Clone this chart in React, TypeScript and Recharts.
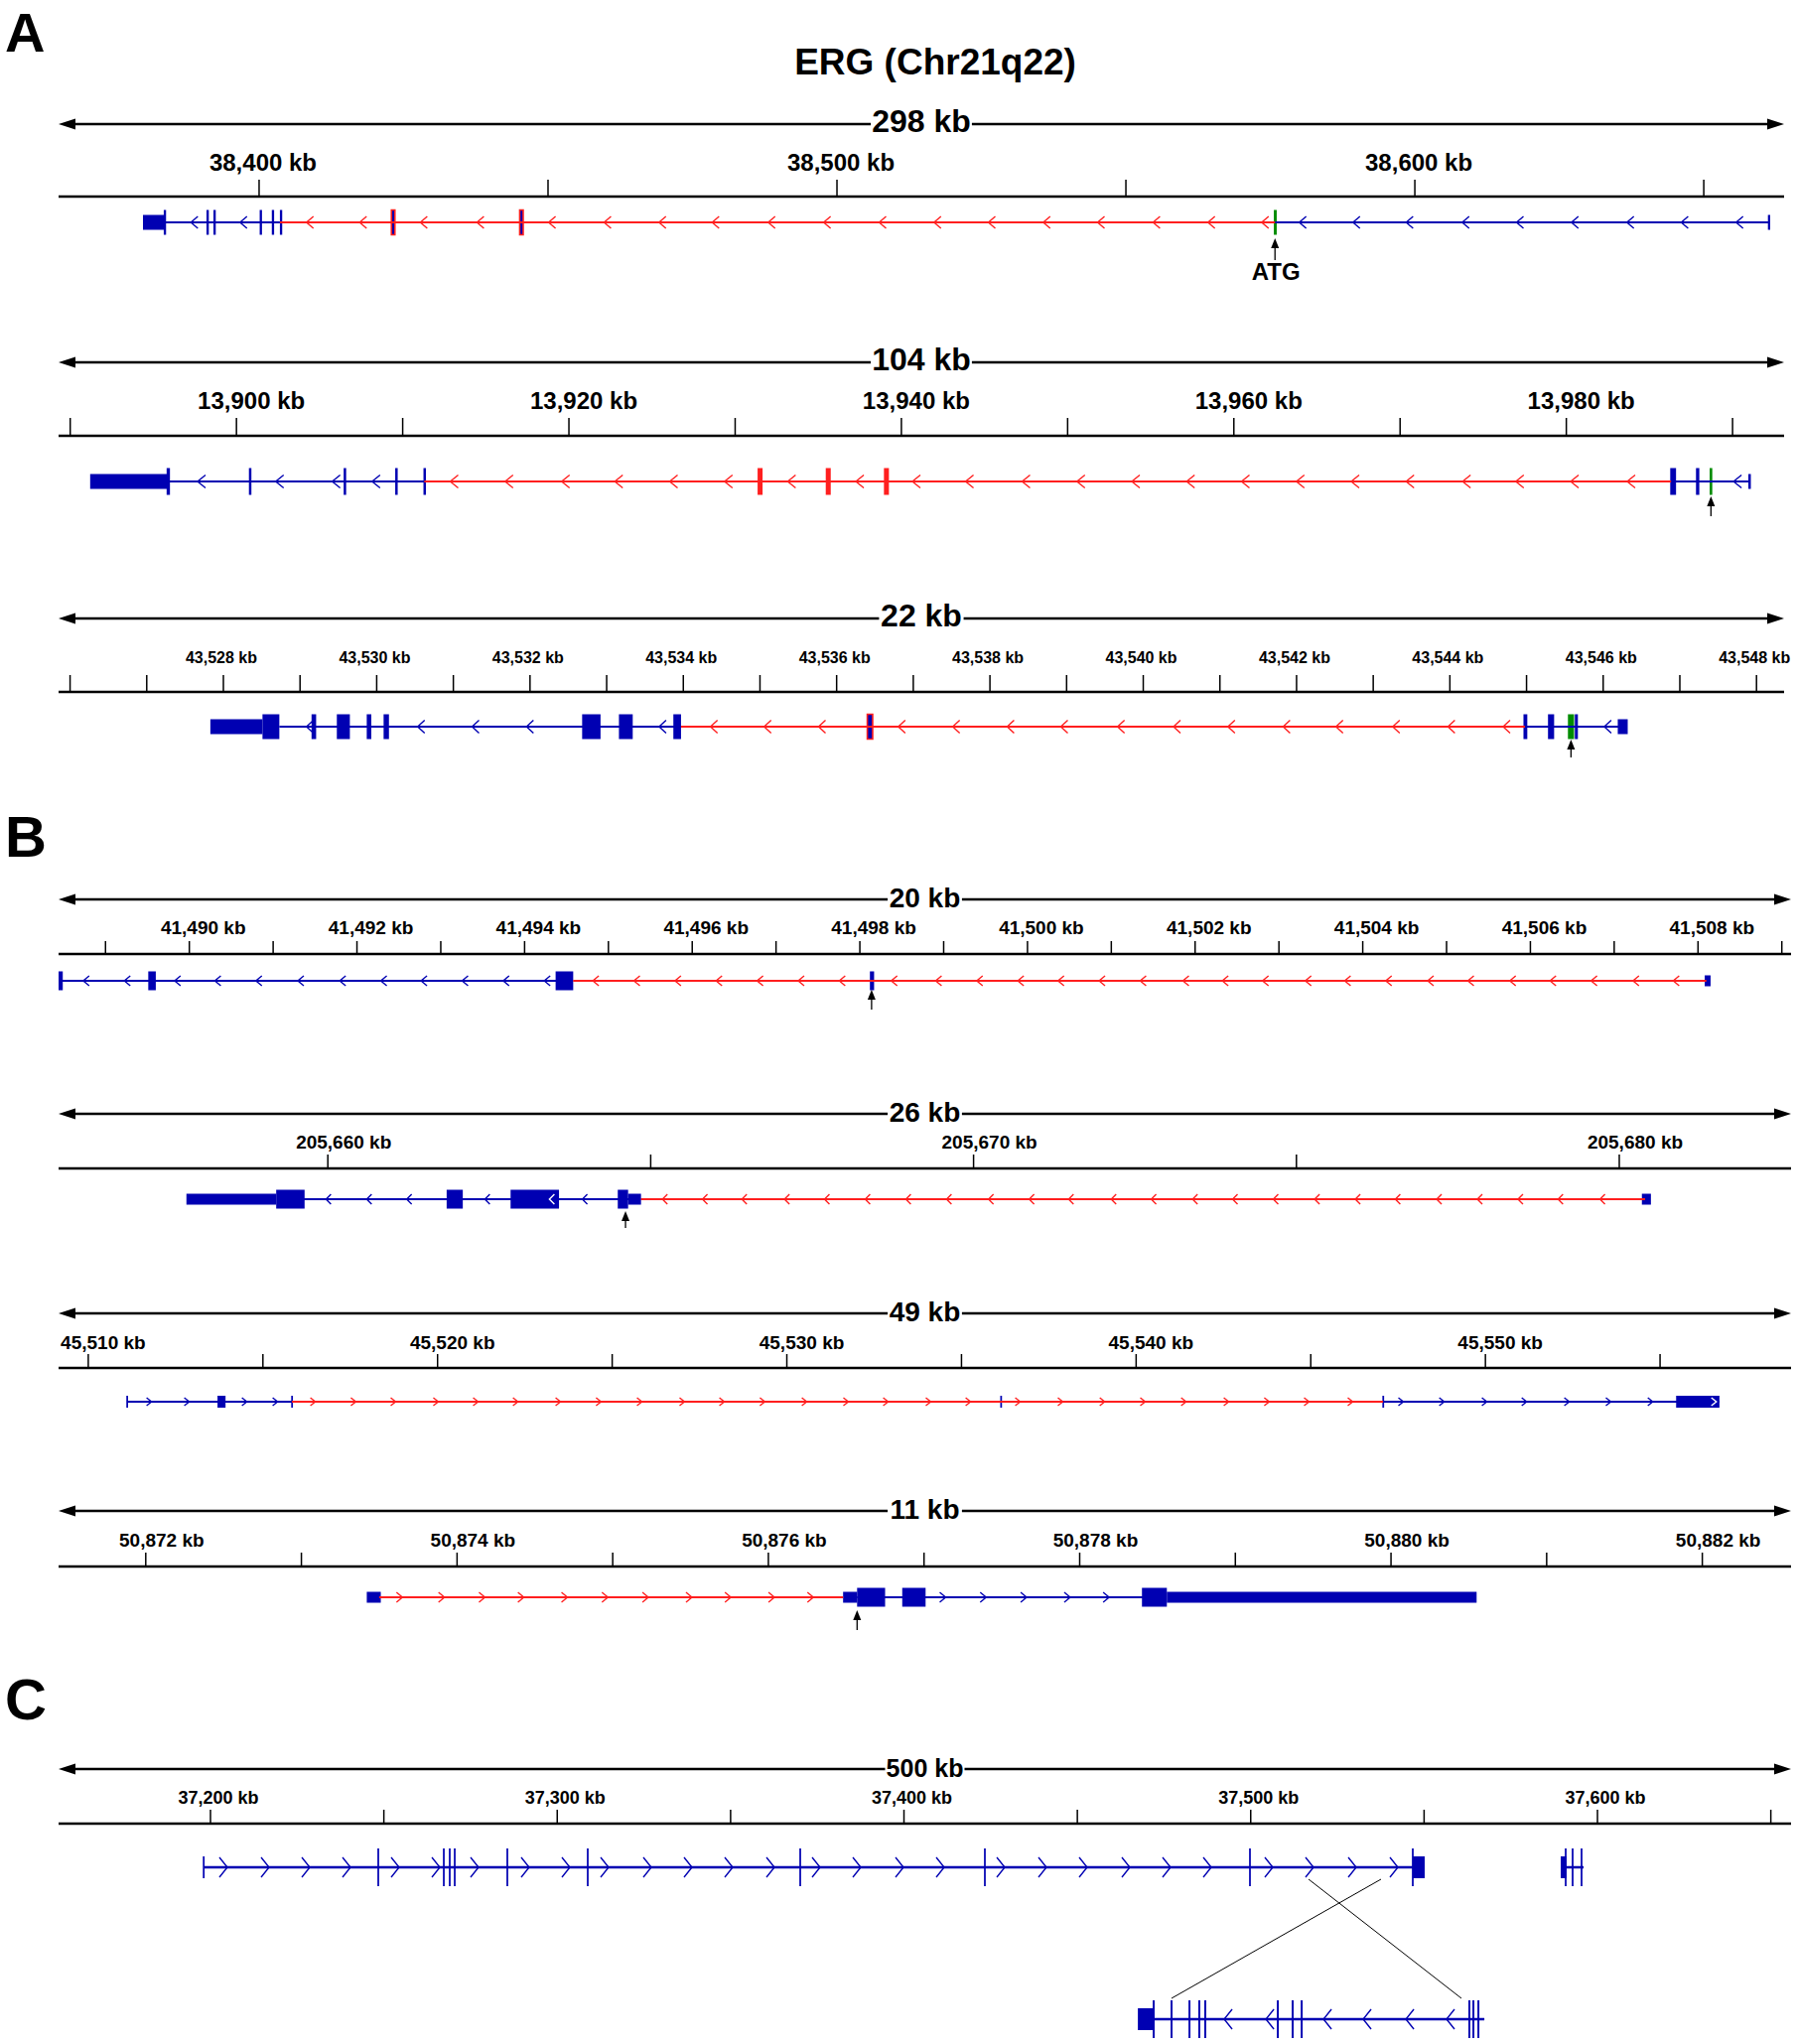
import React from 'react';
import { ComposedChart, XAxis, YAxis, Scatter, ReferenceArea, ReferenceLine } from 'recharts';

const FONT = '"Liberation Sans", Arial, Helvetica, sans-serif';
const BLUE = '#0000b2';
const RED = '#ff1f1f';
const GREEN = '#008c00';
const WIDTH = 1810;

// ---------------- Panel A, track 1: ERG, 298 kb ----------------
const A1_TICKS = [38400, 38450, 38500, 38550, 38600, 38650];
const A1_LABELS = [38400, 38500, 38600];
const A1_UTR = [[38379.9, 38383.6], [38661.1, 38661.5]];
const A1_CDS = [[38383.5, 38383.9], [38390.9, 38391.3], [38392.1, 38392.5], [38400.1, 38400.5], [38402.2, 38402.6], [38403.6, 38404.0]];
const A1_RED_CDS = [[38422.9, 38423.5], [38445.1, 38445.7]];
const A1_ATG = [[38575.6, 38576.1]];
const A1_BLUE_INTRONS = [[38383.7, 38403.6], [38575.8, 38661.3]];
const A1_RED_INTRONS = [[38403.6, 38575.8]];
const A1_BLUE_CHEV = [38388.8, 38397.3, 38580.6, 38589.9, 38599.1, 38608.8, 38618.2, 38627.7, 38637.3, 38646.7, 38656.2];
const A1_RED_CHEV = [38408.8, 38418.0, 38428.5, 38438.3, 38450.7, 38460.3, 38469.8, 38479.0, 38488.7, 38498.3, 38507.9, 38517.4, 38526.8, 38536.3, 38545.7, 38555.3, 38564.8, 38574.1];
const A1_START = 38575.8;

// ---------------- Panel A, track 2: 104 kb ----------------
const A2_TICKS = [13890, 13900, 13910, 13920, 13930, 13940, 13950, 13960, 13970, 13980, 13990];
const A2_LABELS = [13900, 13920, 13940, 13960, 13980];
const A2_UTR = [[13891.2, 13895.9], [13990.95, 13991.1]];
const A2_CDS = [[13895.8, 13896.0], [13900.75, 13900.9], [13906.45, 13906.6], [13909.55, 13909.7], [13911.25, 13911.4], [13986.25, 13986.6], [13987.8, 13988.0]];
const A2_RED_CDS = [[13931.35, 13931.65], [13935.45, 13935.75], [13938.95, 13939.25]];
const A2_ATG = [[13988.62, 13988.78]];
const A2_BLUE_INTRONS = [[13895.9, 13911.3], [13986.3, 13991.0]];
const A2_RED_INTRONS = [[13911.3, 13986.3]];
const A2_BLUE_CHEV = [13897.9, 13902.6, 13906.0, 13908.4, 13990.3];
const A2_RED_CHEV = [13913.1, 13916.4, 13919.8, 13923.0, 13926.3, 13929.6, 13933.4, 13937.5, 13940.9, 13944.1, 13947.5, 13950.8, 13954.1, 13957.4, 13960.7, 13964.0, 13967.3, 13970.6, 13974.0, 13977.2, 13980.5, 13983.9];
const A2_START = 13988.7;

// ---------------- Panel A, track 3: 22 kb ----------------
const A3_TICKS = [43526, 43527, 43528, 43529, 43530, 43531, 43532, 43533, 43534, 43535, 43536, 43537, 43538, 43539, 43540, 43541, 43542, 43543, 43544, 43545, 43546, 43547, 43548];
const A3_LABELS = [43528, 43530, 43532, 43534, 43536, 43538, 43540, 43542, 43544, 43546, 43548];
const A3_UTR = [[43527.83, 43528.51], [43546.19, 43546.32]];
const A3_CDS = [[43528.51, 43528.73], [43529.15, 43529.21], [43529.48, 43529.65], [43529.87, 43529.93], [43530.09, 43530.16], [43532.68, 43532.92], [43533.16, 43533.34], [43533.87, 43533.97], [43544.96, 43545.01], [43545.28, 43545.36], [43545.63, 43545.67]];
const A3_RED_CDS = [[43536.40, 43536.47]];
const A3_ATG = [[43545.54, 43545.62]];
const A3_BLUE_INTRONS = [[43528.73, 43533.97], [43544.98, 43546.2]];
const A3_RED_INTRONS = [[43533.97, 43544.98]];
const A3_BLUE_CHEV = [43529.13, 43530.58, 43531.29, 43532.00, 43533.73, 43546.06];
const A3_RED_CHEV = [43534.40, 43535.10, 43535.81, 43536.85, 43537.56, 43538.27, 43538.97, 43539.71, 43540.44, 43541.15, 43541.87, 43542.56, 43543.30, 43544.02, 43544.74];
const A3_START = 43545.58;

// ---------------- Panel B, track 1: 20 kb ----------------
const B1_TICKS = [41489, 41490, 41491, 41492, 41493, 41494, 41495, 41496, 41497, 41498, 41499, 41500, 41501, 41502, 41503, 41504, 41505, 41506, 41507, 41508, 41509];
const B1_LABELS = [41490, 41492, 41494, 41496, 41498, 41500, 41502, 41504, 41506, 41508];
const B1_UTR = [[41508.08, 41508.15]];
const B1_CDS = [[41488.44, 41488.49], [41489.51, 41489.60], [41494.37, 41494.58], [41498.12, 41498.17]];
const B1_BLUE_INTRONS = [[41488.47, 41494.58]];
const B1_RED_INTRONS = [[41494.58, 41508.1]];
const B1_BLUE_CHEV = [41488.77, 41489.26, 41489.86, 41490.34, 41490.83, 41491.33, 41491.83, 41492.32, 41492.80, 41493.29, 41493.78, 41494.27];
const B1_RED_CHEV = [41494.85, 41495.34, 41495.83, 41496.32, 41496.81, 41497.30, 41497.79, 41498.41, 41498.94, 41499.43, 41499.92, 41500.40, 41500.89, 41501.38, 41501.89, 41502.36, 41502.84, 41503.35, 41503.82, 41504.31, 41504.81, 41505.29, 41505.79, 41506.27, 41506.76, 41507.26, 41507.74];
const B1_START = 41498.14;

// ---------------- Panel B, track 2: 26 kb ----------------
const B2_TICKS = [205660, 205665, 205670, 205675, 205680];
const B2_LABELS = [205660, 205670, 205680];
const B2_UTR = [[205657.81, 205659.20], [205664.65, 205664.85], [205680.35, 205680.49]];
const B2_CDS = [[205659.20, 205659.64], [205661.84, 205662.09], [205662.83, 205663.58], [205664.49, 205664.65]];
const B2_BLUE_INTRONS = [[205659.5, 205664.85]];
const B2_RED_INTRONS = [[205664.85, 205680.4]];
const B2_BLUE_CHEV = [205660.01, 205660.64, 205661.26, 205662.47, 205663.98];
const B2_WHITE_CHEV = [205663.47];
const B2_RED_CHEV = [205665.22, 205665.84, 205666.45, 205667.11, 205667.73, 205668.36, 205668.99, 205669.62, 205670.27, 205670.90, 205671.51, 205672.17, 205672.79, 205673.43, 205674.05, 205674.68, 205675.32, 205675.95, 205676.57, 205677.21, 205677.84, 205678.47, 205679.09, 205679.74];
const B2_START = 205664.61;

// ---------------- Panel B, track 3: 49 kb ----------------
const B3_TICKS = [45510, 45515, 45520, 45525, 45530, 45535, 45540, 45545, 45550, 45555];
const B3_LABELS = [45510, 45520, 45530, 45540, 45550];
const B3_CDS = [[45511.09, 45511.14], [45513.70, 45513.93], [45515.81, 45515.86], [45536.11, 45536.16], [45547.05, 45547.10], [45555.46, 45556.70]];
const B3_BLUE_INTRONS = [[45511.11, 45515.83], [45547.07, 45556.7]];
const B3_RED_INTRONS = [[45515.83, 45547.07]];
const B3_BLUE_CHEV = [45511.74, 45512.82, 45514.47, 45515.35, 45547.58, 45548.75, 45549.97, 45551.11, 45552.33, 45553.52, 45554.72];
const B3_WHITE_CHEV = [45556.54];
const B3_RED_CHEV = [45516.43, 45517.59, 45518.73, 45519.95, 45521.09, 45522.23, 45523.45, 45524.61, 45525.78, 45527.00, 45528.14, 45529.30, 45530.50, 45531.69, 45532.83, 45534.05, 45535.19, 45536.61, 45537.83, 45539.03, 45540.19, 45541.36, 45542.58, 45543.74, 45544.88, 45546.13];

// ---------------- Panel B, track 4: 11 kb ----------------
const B4_TICKS = [50872, 50873, 50874, 50875, 50876, 50877, 50878, 50879, 50880, 50881, 50882];
const B4_LABELS = [50872, 50874, 50876, 50878, 50880, 50882];
const B4_UTR = [[50873.42, 50873.51], [50876.48, 50876.57], [50878.56, 50880.55]];
const B4_CDS = [[50876.57, 50876.75], [50876.86, 50877.01], [50878.40, 50878.56]];
const B4_BLUE_INTRONS = [[50876.57, 50878.5]];
const B4_RED_INTRONS = [[50873.5, 50876.48]];
const B4_BLUE_CHEV = [50877.12, 50877.38, 50877.64, 50877.92, 50878.17];
const B4_RED_CHEV = [50873.63, 50873.90, 50874.16, 50874.41, 50874.69, 50874.95, 50875.21, 50875.49, 50875.74, 50876.02, 50876.27];
const B4_START = 50876.57;

// ---------------- Panel C: 500 kb ----------------
const C_TICKS = [37200, 37250, 37300, 37350, 37400, 37450, 37500, 37550, 37600, 37650];
const C_LABELS = [37200, 37300, 37400, 37500, 37600];
const C_UTR = [[37197.8, 37198.3], [37546.74, 37550.18], [37589.40, 37591.12]];
const C_CDS = [[37248.14, 37248.64], [37267.04, 37267.54], [37268.75, 37269.25], [37270.19, 37270.69], [37285.36, 37285.86], [37308.55, 37309.05], [37369.83, 37370.33], [37423.08, 37423.58], [37499.53, 37500.03], [37546.49, 37546.99], [37590.59, 37591.09], [37592.59, 37593.09], [37595.17, 37595.67]];
const C_BLUE_INTRONS = [[37198.0, 37548.0], [37589.4, 37596.0]];
const C_BLUE_CHEV = [37203.72, 37215.75, 37227.49, 37239.23, 37253.26, 37265.00, 37276.16, 37290.76, 37302.50, 37313.67, 37325.98, 37337.72, 37349.46, 37361.49, 37374.66, 37386.40, 37398.71, 37410.45, 37427.92, 37439.94, 37451.68, 37463.99, 37475.73, 37487.47, 37505.22, 37516.96, 37529.28, 37541.30];
const C_ZOOM_TOP = [37516.68, 37537.58];
const C_ZOOM_BOTTOM = [37560.77, 37477.16];
const C_INSET_DOMAIN = [37492.92, 37617.82];
const C_INSET_UTR = [[37538.87, 37540.01]];
const C_INSET_CDS = [[37538.80, 37538.94], [37537.51, 37537.65], [37536.22, 37536.36], [37535.51, 37535.65], [37535.08, 37535.22], [37529.85, 37529.99], [37528.78, 37528.92], [37528.13, 37528.27], [37516.04, 37516.18], [37515.75, 37515.89], [37515.39, 37515.53]];
const C_INSET_INTRONS = [[37515.03, 37538.87]];
const C_INSET_CHEV = [37533.50, 37530.49, 37526.34, 37523.48, 37520.40, 37517.47];

// ---------------- drawing helpers ----------------
const chevShape = (dir: string, w: number, h: number, color: string, sw: number) => (p: any) => {
  const { cx, cy } = p;
  if (cx == null || cy == null) return <g />;
  const l = cx - w / 2, r = cx + w / 2;
  const d = dir === '<'
    ? `M${r},${cy - h} L${l},${cy} L${r},${cy + h}`
    : `M${l},${cy - h} L${r},${cy} L${l},${cy + h}`;
  return <path d={d} fill="none" stroke={color} strokeWidth={sw} />;
};

const scaleBarShape = (label: string, font: number) => (p: any) => {
  const { x1, x2, y1 } = p;
  const a = 17, h = 5.5;
  const cx = (x1 + x2) / 2;
  const half = (label.length * 0.52 * font) / 2 + 1;
  return (
    <g>
      <line x1={x1 + a - 1} y1={y1} x2={cx - half} y2={y1} stroke="#000" strokeWidth={2.5} />
      <line x1={cx + half} y1={y1} x2={x2 - a + 1} y2={y1} stroke="#000" strokeWidth={2.5} />
      <path d={`M${x1},${y1} L${x1 + a},${y1 - h} L${x1 + a},${y1 + h} Z`} fill="#000" />
      <path d={`M${x2},${y1} L${x2 - a},${y1 - h} L${x2 - a},${y1 + h} Z`} fill="#000" />
      <text x={cx} y={y1 + 8} textAnchor="middle" fontSize={font} fontWeight="bold" fontFamily={FONT} fill="#000">{label}</text>
    </g>
  );
};

const startArrowShape = (text?: string) => (p: any) => {
  const { x1, y1, y2 } = p;
  return (
    <g>
      <line x1={x1} y1={y1 + 8} x2={x1} y2={y2} stroke="#000" strokeWidth={1.3} />
      <path d={`M${x1},${y1} L${x1 - 4},${y1 + 10} L${x1 + 4},${y1 + 10} Z`} fill="#000" />
      {text ? (
        <text x={x1 + 1} y={y2 + 20} textAnchor="middle" fontSize={24} fontWeight="bold" fontFamily={FONT} fill="#000">{text}</text>
      ) : null}
    </g>
  );
};

const makeTick = (labels: number[], font: number, dx: number) => (p: any) => {
  const v = p && p.payload ? p.payload.value : null;
  if (v == null || !labels.some((l) => Math.abs(l - v) < 1e-6)) return <g />;
  return (
    <text x={p.x + dx} y={p.y} textAnchor="middle" fontSize={font} fontWeight="bold" fontFamily={FONT} fill="#000">
      {Number(v).toLocaleString('en-US')} kb
    </text>
  );
};

const areas = (list: number[][] | undefined, y: number, hh: number, fill: string, key: string, axisId: any = 0, stroke = 'none', sw = 0) =>
  (list || []).map(([a, b], i) => (
    <ReferenceArea key={key + i} xAxisId={axisId} x1={a} x2={b} y1={y - hh} y2={y + hh} fill={fill} fillOpacity={1}
      stroke={stroke} strokeWidth={sw} ifOverflow="visible" />
  ));

const segs = (list: number[][] | undefined, y: number, color: string, w: number, key: string, axisId: any = 0) =>
  (list || []).map(([a, b], i) => (
    <ReferenceLine key={key + i} xAxisId={axisId} segment={[{ x: a, y }, { x: b, y }]} stroke={color} strokeWidth={w} ifOverflow="visible" />
  ));

const chevs = (list: number[] | undefined, y: number, dir: string, w: number, h: number, color: string, key: string, axisId: any = 0) =>
  list && list.length ? (
    <Scatter key={key} xAxisId={axisId} data={list.map((x) => ({ x, y }))} shape={chevShape(dir, w, h, color, 1.4)} isAnimationActive={false} />
  ) : null;

// ---------------- track configurations (layout only) ----------------
const TRACKS: any[] = [
  { id: 'A1', top: 100, height: 190, axisH: 98, right: 13, domain: [38365.3, 38663.9], ticks: A1_TICKS, labels: A1_LABELS, tickFont: 24, tickSize: 17, tickMargin: 9.5, labelDx: 4,
    span: '298 kb', spanFont: 32, spanY: -73, geneY: 26, cdsH: 12.5, utrH: 7.5, chevW: 7, chevH: 6, dir: '<', lineW: 2,
    utr: A1_UTR, cds: A1_CDS, redCds: A1_RED_CDS, redOutline: true, atg: A1_ATG, blueIn: A1_BLUE_INTRONS, redIn: A1_RED_INTRONS,
    blueChev: A1_BLUE_CHEV, redChev: A1_RED_CHEV, start: A1_START, arrowY: [42, 64], startText: 'ATG' },
  { id: 'A2', top: 330, height: 200, axisH: 109, right: 13, domain: [13889.3, 13993.1], ticks: A2_TICKS, labels: A2_LABELS, tickFont: 24, tickSize: 18, tickMargin: 9, labelDx: 15,
    span: '104 kb', spanFont: 32, spanY: -74, geneY: 46, cdsH: 13.5, utrH: 7.5, chevW: 8, chevH: 6.5, dir: '<', lineW: 2,
    utr: A2_UTR, cds: A2_CDS, redCds: A2_RED_CDS, redOutline: false, atg: A2_ATG, blueIn: A2_BLUE_INTRONS, redIn: A2_RED_INTRONS,
    blueChev: A2_BLUE_CHEV, redChev: A2_RED_CHEV, start: A2_START, arrowY: [61, 81] },
  { id: 'A3', top: 590, height: 185, axisH: 107, right: 13, domain: [43525.85, 43548.36], ticks: A3_TICKS, labels: A3_LABELS, tickFont: 16, tickSize: 17, tickMargin: 12, labelDx: -2,
    span: '22 kb', spanFont: 32, spanY: -74, geneY: 35, cdsH: 12.5, utrH: 7.5, chevW: 7, chevH: 6.5, dir: '<', lineW: 2,
    utr: A3_UTR, cds: A3_CDS, redCds: A3_RED_CDS, redOutline: true, atg: A3_ATG, blueIn: A3_BLUE_INTRONS, redIn: A3_RED_INTRONS,
    blueChev: A3_BLUE_CHEV, redChev: A3_RED_CHEV, start: A3_START, arrowY: [48, 66] },
  { id: 'B1', top: 870, height: 170, axisH: 91, right: 6, domain: [41488.44, 41509.11], ticks: B1_TICKS, labels: B1_LABELS, tickFont: 19, tickSize: 13, tickMargin: 7, labelDx: 14,
    span: '20 kb', spanFont: 28, spanY: -55, geneY: 27, cdsH: 9.5, utrH: 5.5, chevW: 6, chevH: 5, dir: '<', lineW: 2,
    utr: B1_UTR, cds: B1_CDS, blueIn: B1_BLUE_INTRONS, redIn: B1_RED_INTRONS,
    blueChev: B1_BLUE_CHEV, redChev: B1_RED_CHEV, start: B1_START, arrowY: [36, 56] },
  { id: 'B2', top: 1085, height: 170, axisH: 92, right: 6, domain: [205655.83, 205682.66], ticks: B2_TICKS, labels: B2_LABELS, tickFont: 19, tickSize: 14, tickMargin: 6, labelDx: 16,
    span: '26 kb', spanFont: 28, spanY: -55, geneY: 31, cdsH: 9.5, utrH: 5.5, chevW: 5, chevH: 5, dir: '<', lineW: 2,
    utr: B2_UTR, cds: B2_CDS, blueIn: B2_BLUE_INTRONS, redIn: B2_RED_INTRONS,
    blueChev: B2_BLUE_CHEV, redChev: B2_RED_CHEV, whiteChev: B2_WHITE_CHEV, start: B2_START, arrowY: [43, 60] },
  { id: 'B3', top: 1285, height: 160, axisH: 93, right: 6, domain: [45509.15, 45558.75], ticks: B3_TICKS, labels: B3_LABELS, tickFont: 19, tickSize: 14, tickMargin: 5, labelDx: 15,
    span: '49 kb', spanFont: 28, spanY: -55, geneY: 34, cdsH: 6, utrH: 6, chevW: 5, chevH: 4, dir: '>', lineW: 2,
    cds: B3_CDS, blueIn: B3_BLUE_INTRONS, redIn: B3_RED_INTRONS,
    blueChev: B3_BLUE_CHEV, redChev: B3_RED_CHEV, whiteChev: B3_WHITE_CHEV },
  { id: 'B4', top: 1485, height: 180, axisH: 93, right: 6, domain: [50871.44, 50882.57], ticks: B4_TICKS, labels: B4_LABELS, tickFont: 19, tickSize: 14, tickMargin: 6, labelDx: 16,
    span: '11 kb', spanFont: 28, spanY: -56, geneY: 31, cdsH: 9.5, utrH: 5.5, chevW: 6, chevH: 5, dir: '>', lineW: 2,
    utr: B4_UTR, cds: B4_CDS, blueIn: B4_BLUE_INTRONS, redIn: B4_RED_INTRONS,
    blueChev: B4_BLUE_CHEV, redChev: B4_RED_CHEV, start: B4_START, arrowY: [44, 64] },
  { id: 'C', top: 1745, height: 314, axisH: 92, right: 6, domain: [37156.19, 37655.83], ticks: C_TICKS, labels: C_LABELS, tickFont: 18, tickSize: 14, tickMargin: 6, labelDx: 8,
    span: '500 kb', spanFont: 25, spanY: -55, geneY: 44, cdsH: 19, utrH: 11, chevW: 8, chevH: 10, dir: '>', lineW: 2.5,
    utr: C_UTR, cds: C_CDS, blueIn: C_BLUE_INTRONS, blueChev: C_BLUE_CHEV,
    inset: { domain: C_INSET_DOMAIN, geneY: 197, utr: C_INSET_UTR, cds: C_INSET_CDS, introns: C_INSET_INTRONS, chev: C_INSET_CHEV,
      fromX: C_ZOOM_TOP, toX: C_ZOOM_BOTTOM, fromY: 56, toY: 176 } },
];

function Track({ c }: { c: any }) {
  const P = c.height - c.axisH;
  const g = c.geneY;
  const els: any[] = [];
  // scale bar spanning the whole axis domain
  els.push(
    <ReferenceLine key="span" segment={[{ x: c.domain[0], y: c.spanY }, { x: c.domain[1], y: c.spanY }]} ifOverflow="visible"
      stroke="#000" shape={scaleBarShape(c.span, c.spanFont)} />
  );
  els.push(...segs(c.blueIn, g, BLUE, c.lineW, 'bi'));
  els.push(...segs(c.redIn, g, RED, c.lineW, 'ri'));
  els.push(chevs(c.blueChev, g, c.dir, c.chevW, c.chevH, BLUE, 'bc'));
  els.push(chevs(c.redChev, g, c.dir, c.chevW, c.chevH, RED, 'rc'));
  els.push(...areas(c.utr, g, c.utrH, BLUE, 'u'));
  els.push(...areas(c.cds, g, c.cdsH, BLUE, 'c'));
  if (c.redOutline) els.push(...areas(c.redCds, g, c.cdsH, BLUE, 'rd', 0, RED, 1.6));
  else els.push(...areas(c.redCds, g, c.cdsH, RED, 'rd'));
  els.push(...areas(c.atg, g, c.cdsH, GREEN, 'atg'));
  els.push(chevs(c.whiteChev, g, c.dir, c.chevW, c.chevH, '#ffffff', 'wc'));
  if (c.start != null) {
    els.push(
      <ReferenceLine key="start" segment={[{ x: c.start, y: c.arrowY[0] }, { x: c.start, y: c.arrowY[1] }]} ifOverflow="visible"
        stroke="#000" shape={startArrowShape(c.startText)} />
    );
  }
  const ins = c.inset;
  if (ins) {
    ins.fromX.forEach((fx: number, i: number) => {
      els.push(
        <ReferenceLine key={'zl' + i} segment={[{ x: fx, y: ins.fromY }, { x: ins.toX[i], y: ins.toY }]} ifOverflow="visible" stroke="#000" strokeWidth={1} />
      );
    });
    els.push(...segs(ins.introns, ins.geneY, BLUE, c.lineW, 'ii', 'inset'));
    els.push(chevs(ins.chev, ins.geneY, '<', c.chevW, c.chevH, BLUE, 'ic', 'inset'));
    els.push(...areas(ins.utr, ins.geneY, c.utrH, BLUE, 'iu', 'inset'));
    els.push(...areas(ins.cds, ins.geneY, c.cdsH, BLUE, 'icd', 'inset'));
  }
  return (
    <div style={{ position: 'absolute', left: 0, top: c.top, width: WIDTH, height: c.height }}>
      <ComposedChart width={WIDTH} height={c.height} margin={{ top: 0, right: c.right, bottom: 0, left: 59 }}>
        <XAxis type="number" dataKey="x" orientation="top" domain={c.domain} allowDataOverflow ticks={c.ticks} interval={0}
          height={c.axisH} tickSize={c.tickSize} tickMargin={c.tickMargin} stroke="#000"
          axisLine={{ stroke: '#000', strokeWidth: 2.5 }} tickLine={{ stroke: '#000', strokeWidth: 1.5 }}
          tick={makeTick(c.labels, c.tickFont, c.labelDx)} />
        {ins ? (
          <XAxis xAxisId="inset" type="number" dataKey="x" domain={ins.domain} allowDataOverflow reversed hide />
        ) : null}
        <YAxis type="number" dataKey="y" domain={[0, P]} allowDataOverflow reversed hide />
        {els}
      </ComposedChart>
    </div>
  );
}

export default function App() {
  return (
    <div style={{ position: 'absolute', left: 0, top: 0, width: WIDTH, height: 2059, background: '#fff', overflow: 'hidden' }}>
      <svg width={WIDTH} height={2059} style={{ position: 'absolute', left: 0, top: 0 }}>
        <text x={5} y={52} fontSize={56} fontWeight="bold" fontFamily={FONT} fill="#000">A</text>
        <text x={5} y={863} fontSize={58} fontWeight="bold" fontFamily={FONT} fill="#000">B</text>
        <text x={5} y={1732} fontSize={58} fontWeight="bold" fontFamily={FONT} fill="#000">C</text>
        <text x={942} y={75} textAnchor="middle" fontSize={37} fontWeight="bold" fontFamily={FONT} fill="#000">ERG (Chr21q22)</text>
      </svg>
      {TRACKS.map((c) => (
        <Track key={c.id} c={c} />
      ))}
    </div>
  );
}
